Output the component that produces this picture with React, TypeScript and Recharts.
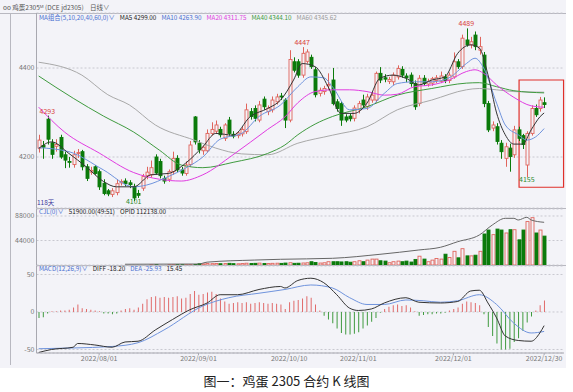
import React from "react";
import {
  ComposedChart,
  Bar,
  Line,
  XAxis,
  YAxis,
  CartesianGrid,
  ReferenceDot,
  ReferenceArea,
  Cell,
} from "recharts";

// 118 trading days, 2022/07/12 .. 2022/12/30 (index 0..117)
const opens = [
  4220, 4226, 4285, 4232, 4224, 4244, 4205, 4190, 4183, 4208,
  4212, 4178, 4166, 4178, 4167, 4141, 4124, 4116, 4120, 4142,
  4146, 4142, 4134, 4118, 4130, 4158, 4160, 4200, 4190, 4152,
  4150, 4167, 4197, 4171, 4163, 4183, 4290, 4231, 4214, 4214,
  4253, 4258, 4262, 4242, 4283, 4251, 4248, 4252, 4257, 4302,
  4309, 4283, 4330, 4302, 4306, 4324, 4337, 4328, 4283, 4414,
  4414, 4384, 4415, 4424, 4396, 4343, 4347, 4360, 4373, 4324,
  4320, 4290, 4292, 4287, 4306, 4328, 4313, 4328, 4328, 4388,
  4378, 4370, 4369, 4380, 4397, 4382, 4384, 4365, 4320, 4377,
  4364, 4366, 4372, 4370, 4380, 4372, 4380, 4414, 4403, 4463,
  4452, 4474, 4440, 4429, 4320, 4265, 4268, 4231, 4197, 4220,
  4205, 4261, 4248, 4182, 4253, 4309, 4309, 4322,
];
const highs = [
  4250, 4236, 4293, 4240, 4240, 4250, 4212, 4200, 4214, 4218,
  4216, 4184, 4178, 4182, 4172, 4150, 4128, 4130, 4150, 4150,
  4152, 4148, 4140, 4126, 4162, 4178, 4192, 4206, 4196, 4158,
  4172, 4212, 4204, 4178, 4190, 4236, 4292, 4238, 4226, 4262,
  4278, 4282, 4268, 4276, 4290, 4258, 4258, 4268, 4320, 4310,
  4316, 4326, 4336, 4316, 4336, 4342, 4344, 4332, 4440, 4424,
  4420, 4447, 4442, 4430, 4402, 4356, 4360, 4388, 4400, 4330,
  4324, 4296, 4298, 4316, 4326, 4340, 4342, 4346, 4392, 4402,
  4386, 4380, 4390, 4406, 4404, 4388, 4390, 4372, 4384, 4384,
  4376, 4380, 4384, 4392, 4386, 4390, 4435, 4420, 4475, 4489,
  4470, 4482, 4470, 4436, 4326, 4280, 4276, 4238, 4232, 4230,
  4270, 4268, 4252, 4258, 4316, 4318, 4335, 4334,
];
const lows = [
  4210, 4196, 4228, 4196, 4212, 4196, 4175, 4176, 4176, 4198,
  4170, 4146, 4160, 4160, 4126, 4114, 4112, 4110, 4114, 4136,
  4134, 4130, 4101, 4108, 4124, 4150, 4154, 4160, 4152, 4140,
  4144, 4160, 4166, 4158, 4158, 4178, 4228, 4208, 4205, 4210,
  4248, 4252, 4244, 4236, 4248, 4242, 4242, 4246, 4252, 4284,
  4280, 4278, 4306, 4294, 4300, 4318, 4328, 4265, 4278, 4390,
  4378, 4378, 4410, 4398, 4334, 4336, 4340, 4350, 4316, 4302,
  4270, 4278, 4280, 4280, 4298, 4310, 4306, 4322, 4322, 4366,
  4368, 4364, 4362, 4374, 4378, 4368, 4358, 4306, 4314, 4360,
  4358, 4360, 4366, 4366, 4366, 4366, 4376, 4398, 4398, 4448,
  4444, 4440, 4430, 4312, 4256, 4258, 4228, 4196, 4178, 4167,
  4198, 4236, 4218, 4155, 4248, 4290, 4302, 4310,
];
const closes = [
  4238, 4222, 4240, 4206, 4228, 4200, 4193, 4188, 4205, 4210,
  4178, 4152, 4170, 4163, 4133, 4118, 4117, 4124, 4140, 4145,
  4140, 4138, 4108, 4114, 4156, 4166, 4176, 4164, 4158, 4146,
  4167, 4197, 4171, 4164, 4182, 4227, 4234, 4216, 4222, 4253,
  4262, 4272, 4250, 4272, 4253, 4247, 4254, 4262, 4306, 4291,
  4287, 4317, 4313, 4310, 4328, 4335, 4335, 4283, 4419, 4395,
  4384, 4433, 4436, 4403, 4340, 4350, 4354, 4363, 4320, 4309,
  4283, 4283, 4286, 4310, 4320, 4317, 4335, 4339, 4388, 4373,
  4375, 4374, 4384, 4399, 4384, 4378, 4365, 4313, 4377, 4365,
  4370, 4376, 4378, 4382, 4372, 4384, 4414, 4403, 4467, 4452,
  4459, 4448, 4448, 4320, 4261, 4272, 4235, 4212, 4223, 4201,
  4261, 4242, 4228, 4253, 4309, 4295, 4328, 4318,
];
const volumes = [
  300, 250, 400, 300, 280, 350, 300, 260, 320, 380,
  300, 420, 350, 300, 400, 450, 380, 320, 400, 360,
  420, 380, 500, 450, 480, 520, 560, 600, 520, 480,
  560, 650, 600, 580, 620, 700, 900, 2200, 2000, 2600,
  2400, 2800, 2300, 2600, 3000, 2400, 2200, 2600, 3200, 2800,
  3000, 3400, 2800, 2600, 3000, 3200, 2900, 3500, 4100, 3000,
  3200, 3600, 4000, 5900, 4500, 3500, 4000, 5900, 5900, 5900,
  5500, 5900, 5000, 5900, 7600, 5900, 8800, 10600, 10600, 7600,
  7000, 4100, 5900, 7000, 5900, 7000, 5300, 10000, 15800, 10600,
  5900, 8800, 11700, 10600, 19400, 13500, 24600, 12900, 29300, 16400,
  16400, 17600, 24600, 55700, 62800, 54500, 64500, 62800, 57500, 63400,
  63400, 45200, 62800, 78000, 85000, 57500, 62800, 51900,
];
const macdHist = [
  -8, -7, -2, 1, 1, 2, 2, 3, 6, 10,
  5, 4, 3, 2, 1, -2, -2, -3, -2, 2,
  4, 5, 3, 6, 11, 17, 20, 21, 19, 20,
  19, 20, 21, 18, 19, 24, 28, 23, 24, 26,
  27, 24, 18, 14, 11, 12, 13, 12, 13, 11,
  12, 13, 12, 11, 12, 11, 10, 4, 13, 15,
  16, 18, 21, 19, 10, 2, -5, -10, -15, -22,
  -28, -30, -30, -29, -27, -22, -18, -13, -8, -1,
  4, 7, 9, 10, 8, 9, 6, 1, -5, -4,
  -3, -3, -2, -2, -1, 2, 4, 6, 11, 14,
  13, 12, 9, -3, -20, -32, -42, -50, -50, -49,
  -40, -35, -25, -14, -6, 2, 9, 15.45,
];

// moving averages & indicator lines, [index, value]
const ma5Pts = [
  [0, 4219], [3, 4234], [7, 4208], [11, 4178], [15, 4145], [18, 4133], [22, 4133],
  [26, 4160], [30, 4163], [34, 4186], [38, 4223], [41, 4253], [45, 4249], [49, 4291],
  [53, 4309], [56, 4328], [59, 4373], [61, 4410], [64, 4403], [67, 4358], [70, 4298],
  [73, 4298], [76, 4321], [79, 4377], [82, 4384], [85, 4377], [88, 4362], [91, 4373],
  [94, 4380], [97, 4433], [100, 4452], [102, 4445], [104, 4385], [106, 4299],
  [108, 4250], [110, 4229], [112, 4229], [114, 4261], [116, 4290], [117, 4299],
];
const ma10Pts = [
  [0, 4221], [7, 4212], [15, 4171], [22, 4133], [25, 4137], [30, 4156], [34, 4175],
  [38, 4200], [42, 4240], [47, 4253], [51, 4291], [56, 4317], [60, 4358], [63, 4380],
  [66, 4378], [68, 4358], [72, 4306], [76, 4309], [80, 4343], [83, 4365], [87, 4369],
  [91, 4369], [95, 4378], [99, 4410], [101, 4422], [103, 4400], [106, 4321],
  [108, 4272], [111, 4250], [113, 4238], [115, 4245], [117, 4263.9],
];
const ma20Pts = [
  [0, 4312], [6, 4256], [14, 4209], [22, 4165], [28, 4150], [33, 4146], [38, 4160],
  [45, 4205], [53, 4262], [57, 4290], [60, 4322], [64, 4347], [68, 4351], [72, 4351],
  [76, 4347], [80, 4339], [83, 4341], [87, 4358], [91, 4362], [95, 4373], [99, 4392],
  [101, 4396], [103, 4388], [106, 4362], [110, 4334], [114, 4315], [117, 4311.75],
];
const ma40Pts = [
  [0, 4382], [8, 4332], [15, 4292], [22, 4256], [28, 4215], [33, 4182], [38, 4176],
  [45, 4188], [53, 4208], [57, 4227], [60, 4250], [64, 4274], [68, 4291], [76, 4313],
  [83, 4339], [91, 4354], [99, 4366], [102, 4367], [106, 4358], [110, 4349], [117, 4344.1],
];
const ma60Pts = [
  [0, 4413], [10, 4384], [16, 4340], [21, 4317], [27, 4272], [36, 4238], [41, 4220],
  [47, 4207], [53, 4205], [60, 4231], [68, 4249], [76, 4268], [83, 4306], [91, 4328],
  [99, 4351], [102, 4354], [106, 4351], [110, 4347], [117, 4345.62],
];
const oiPts = [
  [20, 2000], [37, 2600], [39, 7500], [50, 13000], [56, 15000], [68, 17600],
  [79, 28100], [88, 39400], [93, 46500], [97, 61200], [102, 78800], [105, 105000],
  [108, 122600], [110, 122600], [111, 118200], [113, 125300], [114, 118200], [117, 112138],
];
const diffPts = [
  [0, -54], [3, -50], [8, -47], [9, -42], [13, -44], [17, -47], [20, -40], [23, -39],
  [27, -24], [31, -10], [35, 3], [39, 12], [42, 23], [46, 23], [51, 30], [56, 34],
  [57, 32], [60, 42], [63, 45], [66, 39], [69, 23], [72, 5], [74, 2], [77, 4], [80, 12],
  [85, 19], [88, 13], [93, 12], [97, 14], [100, 28], [102, 29], [104, 12], [106, -8],
  [108, -32], [111, -38], [114, -39], [116, -28], [117, -18.2],
];
const deaPts = [
  [0, -49], [8, -48], [17, -46], [23, -41], [29, -24], [38, 8], [44, 19], [51, 25],
  [57, 30], [63, 36], [68, 32], [72, 19], [76, 10], [80, 10], [85, 16], [89, 15],
  [93, 13], [97, 15], [102, 23], [106, 10], [110, -15], [114, -28], [117, -25.93],
];

const peakMarks = [
  { i: 2, v: 4293, pos: "top", offset: 2, color: "#d9443c" },
  { i: 61, v: 4447, pos: "top", offset: 2, color: "#d9443c" },
  { i: 99, v: 4489, pos: "top", offset: 2, color: "#d9443c" },
  { i: 22, v: 4101, pos: "bottom", offset: -2, color: "#2e8b2e" },
  { i: 113, v: 4155, pos: "bottom", offset: 0, color: "#2e8b2e" },
];

const tickIdx = [14, 37, 58, 74, 96, 117];
const tickLabels = ["2022/08/01", "2022/09/01", "2022/10/10", "2022/11/01", "2022/12/01", "2022/12/30"];

const maLegend = [
  { text: "MA组合(5,10,20,40,60,0)∨", color: "#4a6fd0" },
  { text: "MA5 4299.00", color: "#222" },
  { text: "MA10 4263.90", color: "#4a6fd0" },
  { text: "MA20 4311.75", color: "#e040e0" },
  { text: "MA40 4344.10", color: "#3a9a3a" },
  { text: "MA60 4345.62", color: "#999" },
];
const volLegend = [
  { text: "CJL(0)∨", color: "#4a6fd0" },
  { text: "51900.00(49:51)", color: "#222" },
  { text: "OPID 112138.00", color: "#222" },
];
const macdLegend = [
  { text: "MACD(12,26,9)∨", color: "#4a6fd0" },
  { text: "DIFF -18.20", color: "#222" },
  { text: "DEA -25.93", color: "#4a6fd0" },
  { text: "15.45", color: "#222" },
];

const BG = "#f3f3f8";
const UP = "#e0645c";
const DOWN = "#0b7b0b";
const W = 566;
const X_DOMAIN = [-0.5, 121.6];
const FONT = '"Noto Sans CJK SC", "Noto Sans", sans-serif';

const byIndex = (pts: number[][]) => {
  const m: Record<number, number> = {};
  pts.forEach(([i, v]) => (m[i] = v));
  return m;
};
const m5 = byIndex(ma5Pts), m10 = byIndex(ma10Pts), m20 = byIndex(ma20Pts);
const m40 = byIndex(ma40Pts), m60 = byIndex(ma60Pts), mOi = byIndex(oiPts);
const mDiff = byIndex(diffPts), mDea = byIndex(deaPts);

const data = opens.map((o, i) => ({
  i,
  open: o,
  high: highs[i],
  low: lows[i],
  close: closes[i],
  range: [lows[i], highs[i]],
  vol: volumes[i],
  hist: macdHist[i],
  ma5: m5[i] ?? null,
  ma10: m10[i] ?? null,
  ma20: m20[i] ?? null,
  ma40: m40[i] ?? null,
  ma60: m60[i] ?? null,
  oi: mOi[i] ?? null,
  diff: mDiff[i] ?? null,
  dea: mDea[i] ?? null,
}));

function Candle(props: any) {
  const { x, y, width, height, payload } = props;
  const { open, close, high, low } = payload;
  const top = Math.min(y, y + height);
  const h = Math.abs(height);
  const k = high === low ? 0 : h / (high - low);
  const up = close >= open;
  const color = up ? UP : DOWN;
  const cx = Math.round(x + width / 2) + 0.5;
  const yO = top + (high - open) * k;
  const yC = top + (high - close) * k;
  const bt = Math.min(yO, yC);
  const bh = Math.max(Math.abs(yO - yC), 0.8);
  return (
    <g>
      <line x1={cx} x2={cx} y1={top} y2={top + h} stroke={color} strokeWidth={1} />
      <rect x={cx - 1.5} y={bt} width={3} height={bh} fill={up ? BG : color} stroke={color} strokeWidth={0.9} />
    </g>
  );
}

function VolBar(props: any) {
  const { x, y, width, height, payload } = props;
  const up = payload.close >= payload.open;
  const color = up ? UP : DOWN;
  const cx = Math.round(x + width / 2) + 0.5;
  const top = Math.min(y, y + height);
  const h = Math.abs(height);
  if (h < 0.3) return null;
  return <rect x={cx - 1.5} y={top} width={3} height={h} fill={up ? BG : color} stroke={color} strokeWidth={0.9} />;
}

const yTick = { fontSize: 7, fill: "#777", fontFamily: FONT };

function Legend({ items, top, gap }: { items: { text: string; color: string }[]; top: number; gap: number }) {
  return (
    <div style={{ position: "absolute", left: 39, top, display: "flex", gap, fontSize: 6.3, lineHeight: "8px", fontFamily: FONT, whiteSpace: "nowrap" }}>
      {items.map((it) => (
        <span key={it.text} style={{ color: it.color }}>
          {it.text}
        </span>
      ))}
    </div>
  );
}

const hLine = (top: number, left: number, width: number) => (
  <div style={{ position: "absolute", top, left, width, height: 1, background: "#b8b8c0" }} />
);

export default function App() {
  return (
    <div style={{ position: "absolute", left: 0, top: 0, width: 573, height: 392, background: "#fff", overflow: "hidden" }}>
      <div style={{ position: "absolute", left: 0, top: 0, width: W, height: 368, background: BG }} />
      <div style={{ position: "absolute", left: 3, top: 3, fontSize: 6.5, lineHeight: "8px", color: "#555", fontFamily: FONT, whiteSpace: "nowrap" }}>
        oo 鸡蛋2305ᴹ (DCE jd2305)　日线∨
      </div>
      {hLine(13, 0, W)}
      <div style={{ position: "absolute", left: 10, top: 13, width: 1, height: 352, background: "#b8b8c0" }} />

      {/* main K-line panel */}
      <div style={{ position: "absolute", left: 0, top: 0 }}>
        <ComposedChart width={W} height={208} data={data} margin={{ top: 13, right: 2, bottom: 0, left: 0 }}>
          <CartesianGrid vertical={false} stroke="#c8c8d0" strokeDasharray="2 2" />
          <XAxis dataKey="i" type="number" domain={X_DOMAIN} hide allowDataOverflow />
          <YAxis
            type="number"
            domain={[4085.4, 4523.6]}
            ticks={[4200, 4400]}
            allowDataOverflow
            width={36.5}
            tick={yTick}
            tickSize={0}
            tickMargin={2}
            axisLine={{ stroke: "#a8a8b0" }}
            tickLine={false}
          />
          <Bar dataKey="range" barSize={3} shape={<Candle />} isAnimationActive={false} />
          <Line dataKey="ma60" type="monotone" stroke="#a8a8a8" strokeWidth={1} dot={false} connectNulls isAnimationActive={false} />
          <Line dataKey="ma40" type="monotone" stroke="#3f9a3f" strokeWidth={1} dot={false} connectNulls isAnimationActive={false} />
          <Line dataKey="ma20" type="monotone" stroke="#e03ce0" strokeWidth={1} dot={false} connectNulls isAnimationActive={false} />
          <Line dataKey="ma10" type="monotone" stroke="#6f93dc" strokeWidth={1} dot={false} connectNulls isAnimationActive={false} />
          <Line dataKey="ma5" type="monotone" stroke="#333" strokeWidth={1} dot={false} connectNulls isAnimationActive={false} />
          {peakMarks.map((p) => (
            <ReferenceDot
              key={p.v}
              x={p.i}
              y={p.v}
              r={0}
              ifOverflow="visible"
              label={{ value: String(p.v), position: p.pos as any, offset: p.offset, fill: p.color, fontSize: 7, fontFamily: FONT }}
            />
          ))}
          <ReferenceArea x1={111.2} x2={121.5} y1={4132} y2={4373} fill="none" stroke="#e0302a" strokeWidth={1.2} ifOverflow="visible" />
        </ComposedChart>
      </div>
      <Legend items={maLegend} top={14} gap={5} />
      <div style={{ position: "absolute", left: 37, top: 198, fontSize: 6.5, lineHeight: "8px", color: "#3a3a9a", fontFamily: FONT }}>118天</div>

      {/* volume / open interest panel */}
      {hLine(208, 36, W - 36)}
      <div style={{ position: "absolute", left: 0, top: 208 }}>
        <ComposedChart width={W} height={57} data={data} margin={{ top: 1, right: 2, bottom: 0, left: 0 }}>
          <CartesianGrid yAxisId="v" vertical={false} stroke="#c8c8d0" strokeDasharray="2 2" />
          <XAxis dataKey="i" type="number" domain={X_DOMAIN} hide allowDataOverflow />
          <YAxis
            yAxisId="v"
            orientation="left"
            type="number"
            domain={[0, 100571]}
            ticks={[44000, 88000]}
            allowDataOverflow
            width={36.5}
            tick={yTick}
            tickSize={0}
            tickMargin={2}
            axisLine={{ stroke: "#a8a8b0" }}
            tickLine={false}
          />
          <YAxis yAxisId="oi" orientation="right" width={0} type="number" domain={[0, 147060]} hide allowDataOverflow />
          <Bar yAxisId="v" dataKey="vol" barSize={3} shape={<VolBar />} isAnimationActive={false} />
          <Line yAxisId="oi" dataKey="oi" type="monotone" stroke="#666" strokeWidth={1} dot={false} connectNulls isAnimationActive={false} />
        </ComposedChart>
      </div>
      <Legend items={volLegend} top={208} gap={5} />

      {/* MACD panel */}
      {hLine(265, 36, W - 36)}
      <div style={{ position: "absolute", left: 0, top: 265 }}>
        <ComposedChart width={W} height={103} data={data} margin={{ top: 1, right: 2, bottom: 3, left: 0 }}>
          <CartesianGrid vertical={false} stroke="#c8c8d0" strokeDasharray="2 2" />
          <XAxis
            dataKey="i"
            type="number"
            domain={X_DOMAIN}
            allowDataOverflow
            ticks={tickIdx}
            interval={0}
            tickFormatter={(v) => tickLabels[tickIdx.indexOf(v)] ?? ""}
            tick={yTick}
            tickSize={2}
            tickMargin={1}
            height={12}
            axisLine={{ stroke: "#a8a8b0" }}
            tickLine={{ stroke: "#a8a8b0" }}
          />
          <YAxis
            type="number"
            domain={[-54.7, 61.3]}
            ticks={[-50, 0, 50]}
            allowDataOverflow
            width={36.5}
            tick={yTick}
            tickSize={0}
            tickMargin={2}
            axisLine={{ stroke: "#a8a8b0" }}
            tickLine={false}
          />
          <Bar dataKey="hist" barSize={1} isAnimationActive={false}>
            {data.map((d) => (
              <Cell key={d.i} fill={d.hist >= 0 ? "#e06a6a" : "#3f9a3f"} />
            ))}
          </Bar>
          <Line dataKey="dea" type="monotone" stroke="#6f93dc" strokeWidth={1} dot={false} connectNulls isAnimationActive={false} />
          <Line dataKey="diff" type="monotone" stroke="#333" strokeWidth={1} dot={false} connectNulls isAnimationActive={false} />
        </ComposedChart>
      </div>
      <Legend items={macdLegend} top={265} gap={5} />

      <div
        style={{ position: "absolute", left: 0, top: 373, width: 573, textAlign: "center", fontSize: 13, lineHeight: "16px", color: "#222", fontFamily: FONT }}
      >
        图一：鸡蛋 2305 合约 K 线图
      </div>
    </div>
  );
}
